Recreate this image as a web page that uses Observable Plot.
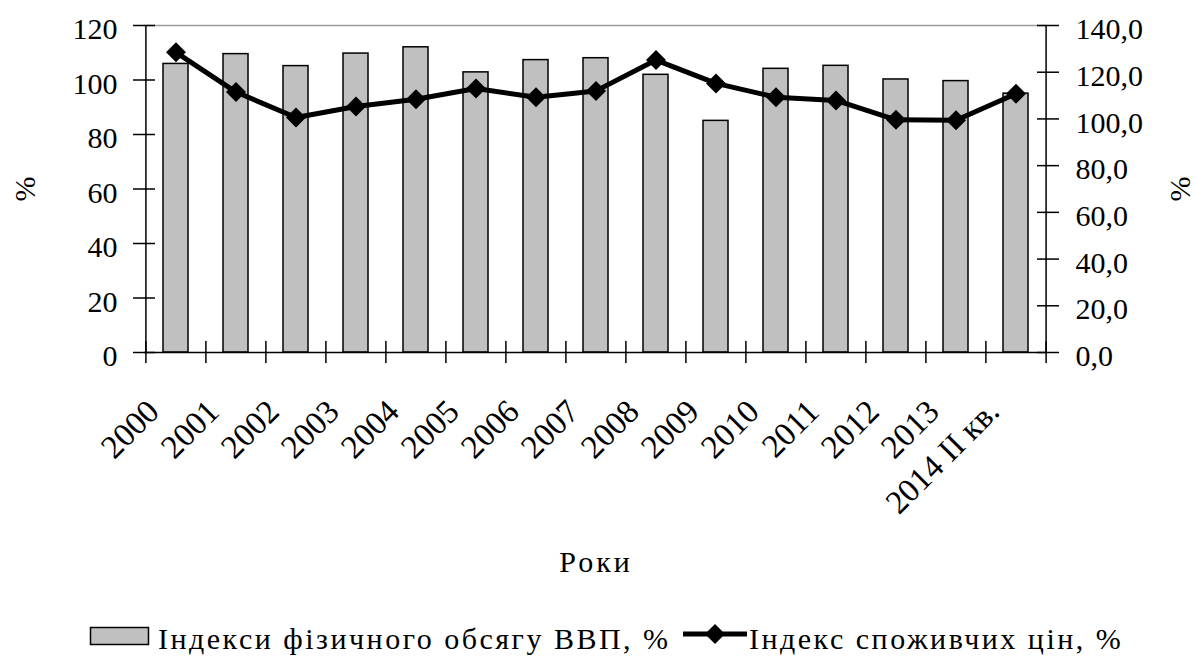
<!DOCTYPE html>
<html><head><meta charset="utf-8">
<script src="https://cdn.jsdelivr.net/npm/d3@7"></script>
<script src="https://cdn.jsdelivr.net/npm/@observablehq/plot@0.6"></script>
<style>
body{margin:0;background:#fff;}
#wrap{position:relative;width:1198px;height:656px;overflow:hidden;font-family:"Liberation Serif","Times New Roman",serif;color:#000;}
#legend{position:absolute;left:0;top:600px;width:1198px;height:56px;}
#legend .item-text{position:absolute;font-size:30px;line-height:30px;letter-spacing:2.5px;white-space:nowrap;}
#legend svg{position:absolute;}
.xtitle text{letter-spacing:3px;}
</style></head>
<body><div id="wrap"><div id="chart"></div><div id="legend"></div></div>
<script>
const years = ["2000","2001","2002","2003","2004","2005","2006","2007","2008","2009","2010","2011","2012","2013","2014 II кв."];
const gdpIndex = [105.9, 109.5, 105.1, 109.7, 112.0, 102.8, 107.3, 108.0, 101.9, 85.0, 104.1, 105.2, 100.2, 99.6, 95.0];
const cpiIndex = [128.5, 111.5, 100.6, 105.3, 108.4, 113.0, 109.3, 112.0, 125.2, 115.2, 109.3, 107.9, 99.6, 99.4, 110.8];
const leftTicks = [0, 20, 40, 60, 80, 100, 120];
const rightTicks = [0, 20, 40, 60, 80, 100, 120, 140];
const seriesNames = ["Індекси фізичного обсягу ВВП, %", "Індекс споживчих цін, %"];
const xTitle = "Роки";
const yTitle = "%";

const data = years.map((y, i) => ({year: y, gdp: gdpIndex[i], cpi: cpiIndex[i]}));
const leftMax = leftTicks[leftTicks.length - 1];
const rightMax = rightTicks[rightTicks.length - 1];
const k = leftMax / rightMax;

const W = 1198, H = 600, mL = 144, mR = 151, mT = 25, mB = 248;
const step = (W - mL - mR) / years.length;
const font = "Liberation Serif, Times New Roman, serif";

const chart = Plot.plot({
  width: W, height: H,
  marginLeft: mL, marginRight: mR, marginTop: mT, marginBottom: mB,
  style: {fontFamily: font, fontSize: "30px", color: "#000", background: "#fff", overflow: "visible"},
  x: {domain: years, paddingInner: 0.58, paddingOuter: 0.29, axis: null},
  y: {domain: [0, leftMax], axis: null, label: null},
  marks: [
    Plot.ruleY([leftMax], {stroke: "#9a9a9a", strokeWidth: 1.5}),
    Plot.barY(data, {x: "year", y: "gdp", fill: "#c0c0c0", stroke: "#000", strokeWidth: 1.5}),
    Plot.line(data, {x: "year", y: d => d.cpi * k, stroke: "#000", strokeWidth: 5}),
    Plot.dot(data, {x: "year", y: d => d.cpi * k, symbol: "diamond2", r: 9, fill: "#000", stroke: "none"}),
    // axis lines
    Plot.ruleY([0], {stroke: "#000", strokeWidth: 1.5}),
    Plot.ruleX([years[0]], {dx: -step / 2, stroke: "#000", strokeWidth: 1.5}),
    Plot.ruleX([years[years.length - 1]], {dx: step / 2, stroke: "#000", strokeWidth: 1.5}),
    // left axis
    Plot.axisY(leftTicks, {anchor: "left", tickSize: 22, dx: 11, fill: "none", stroke: "#000", strokeWidth: 1.5, label: null}),
    Plot.axisY(leftTicks, {anchor: "left", tickSize: 11, tickPadding: 16, stroke: "none", fill: "#000", dy: 4, fontSize: 30, fontFamily: font, label: null}),
    // right axis
    Plot.axisY(rightTicks.map(t => t * k), {anchor: "right", tickSize: 22, dx: -11, fill: "none", stroke: "#000", strokeWidth: 1.5, label: null}),
    Plot.axisY(rightTicks.map(t => t * k), {anchor: "right", tickSize: 11, tickPadding: 17, stroke: "none", fill: "#000", dy: 4, fontSize: 30, fontFamily: font, label: null,
      tickFormat: d => d3.format(".1f")(Math.round(d / k * 10) / 10).replace(".", ",")}),
    // x ticks at category boundaries
    Plot.axisX(years, {anchor: "bottom", tickSize: 22, dy: -11, dx: -step / 2, fill: "none", stroke: "#000", strokeWidth: 1.5, label: null}),
    Plot.axisX([years[years.length - 1]], {anchor: "bottom", tickSize: 22, dy: -11, dx: step / 2, fill: "none", stroke: "#000", strokeWidth: 1.5, label: null}),
    // x tick labels
    Plot.text(years, {x: d => d, frameAnchor: "bottom", rotate: -45, textAnchor: "end", lineAnchor: "bottom", dx: -15, dy: 61, fontSize: 33, fontFamily: font, fill: "#000"}),
    // axis titles
    Plot.text([xTitle], {frameAnchor: "bottom", lineAnchor: "bottom", dy: 219, fontSize: 30, fontFamily: font, fill: "#000", className: "xtitle"}),
    Plot.text([yTitle], {frameAnchor: "left", textAnchor: "middle", rotate: -90, dx: -119, fontSize: 30, fontFamily: font, fill: "#000"}),
    Plot.text([yTitle], {frameAnchor: "right", textAnchor: "middle", rotate: -90, dx: 133, fontSize: 30, fontFamily: font, fill: "#000"})
  ]
});
document.getElementById("chart").appendChild(chart);

// legend below the chart
const legend = d3.select("#legend");
const sw1 = legend.append("svg").attr("width", 62).attr("height", 22).style("left", "89px").style("top", "26px");
sw1.append("rect").attr("x", 1.5).attr("y", 1.5).attr("width", 58).attr("height", 17).attr("fill", "#c0c0c0").attr("stroke", "#000").attr("stroke-width", 1.5);
legend.append("div").attr("class", "item-text").style("left", "158px").style("top", "24px").text(seriesNames[0]);
const sw2 = legend.append("svg").attr("width", 66).attr("height", 24).style("left", "683px").style("top", "22px");
sw2.append("line").attr("x1", 0).attr("x2", 64).attr("y1", 12).attr("y2", 12).attr("stroke", "#000").attr("stroke-width", 5);
sw2.append("path").attr("d", d3.symbol(d3.symbolDiamond2, Math.PI * 9 * 9)()).attr("transform", "translate(32,12)").attr("fill", "#000");
legend.append("div").attr("class", "item-text").style("left", "749px").style("top", "24px").text(seriesNames[1]);
</script>
</body></html>
